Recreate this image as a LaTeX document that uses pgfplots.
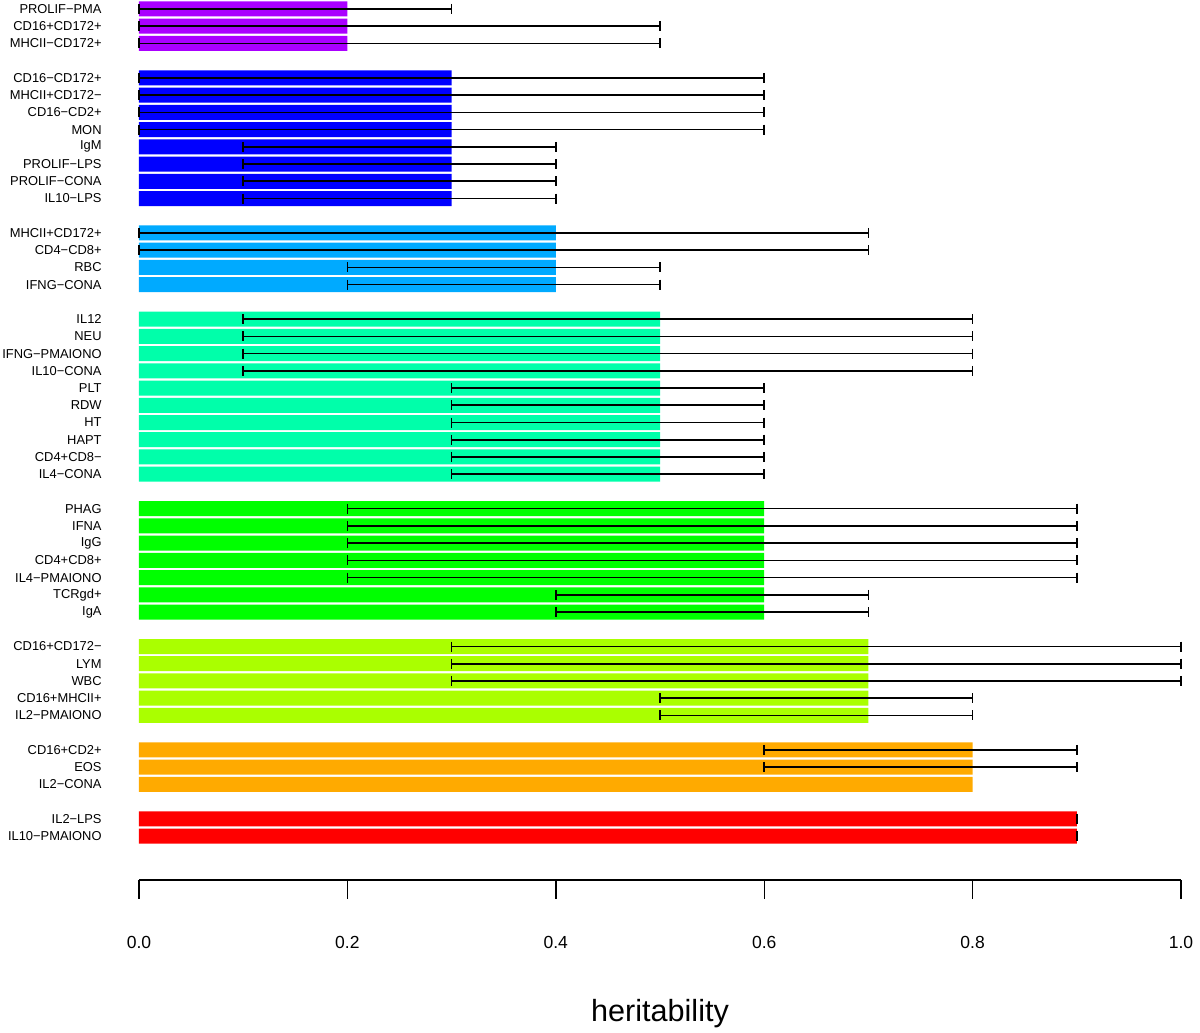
\documentclass[border=0pt]{standalone}
\usepackage{fontspec}
\setmainfont{Liberation Sans}
\usepackage{pgfplots}
\pgfplotsset{compat=1.18}
\definecolor{cRed}{HTML}{FF0000}
\definecolor{cOrange}{HTML}{FFAA00}
\definecolor{cYG}{HTML}{AAFF00}
\definecolor{cGreen}{HTML}{00FF00}
\definecolor{cAqua}{HTML}{00FFAA}
\definecolor{cLBlue}{HTML}{00AAFF}
\definecolor{cBlue}{HTML}{0000FF}
\definecolor{cPurple}{HTML}{AA00FF}
\begin{document}
\begin{tikzpicture}
\useasboundingbox (-69.5pt,-76.5pt) rectangle (530.5pt,440pt);
\begin{axis}[
  at={(0,0)}, anchor=south west,
  scale only axis, width=521pt, height=440pt,
  xmin=0, xmax=1, ymin=-2.55, ymax=48.52,
  enlargelimits=false, clip=false,
  axis x line*=bottom, axis y line*=left,
  y axis line style={draw=none},
  x axis line style={line width=0.7pt, black},
  xtick={0,0.2,0.4,0.6,0.8,1},
  xticklabels={0.0,0.2,0.4,0.6,0.8,1.0},
  xtick style={black, line width=0.7pt},
  ytick style={draw=none},
  tick align=outside,
  x tick label style={font=\fontsize{8.75}{10}\selectfont, yshift=-15pt},
  major tick length=9.5pt,
  ytick={0,1,3,4,5,7,8,9,10,11,13,14,15,16,17,18,19,21,22,23,24,25,26,27,28,29,30,32,33,34,35,37,38,39,40,41,42,43,44,46,47,48},
  yticklabels={IL10−PMAIONO,IL2−LPS,IL2−CONA,EOS,CD16+CD2+,IL2−PMAIONO,CD16+MHCII+,WBC,LYM,CD16+CD172−,IgA,TCRgd+,IL4−PMAIONO,CD4+CD8+,IgG,IFNA,PHAG,IL4−CONA,CD4+CD8−,HAPT,HT,RDW,PLT,IL10−CONA,IFNG−PMAIONO,NEU,IL12,IFNG−CONA,RBC,CD4−CD8+,MHCII+CD172+,IL10−LPS,PROLIF−CONA,PROLIF−LPS,IgM,MON,CD16−CD2+,MHCII+CD172−,CD16−CD172+,MHCII−CD172+,CD16+CD172+,PROLIF−PMA},
  y tick label style={font=\fontsize{6.45}{7.5}\selectfont, anchor=east, inner sep=0pt, xshift=-9pt},
  xlabel={heritability},
  xlabel style={at={(axis description cs:0.5,0)}, anchor=base, yshift=-70.5pt, font=\fontsize{15.3}{18}\selectfont},
]
\addplot[xbar, bar width=7.5pt, bar shift=0pt, fill=cPurple, draw=none] coordinates {(0.2,48) (0.2,47) (0.2,46)};
\addplot[xbar, bar width=7.5pt, bar shift=0pt, fill=cBlue, draw=none] coordinates {(0.3,44) (0.3,43) (0.3,42) (0.3,41) (0.3,40) (0.3,39) (0.3,38) (0.3,37)};
\addplot[xbar, bar width=7.5pt, bar shift=0pt, fill=cLBlue, draw=none] coordinates {(0.4,35) (0.4,34) (0.4,33) (0.4,32)};
\addplot[xbar, bar width=7.5pt, bar shift=0pt, fill=cAqua, draw=none] coordinates {(0.5,30) (0.5,29) (0.5,28) (0.5,27) (0.5,26) (0.5,25) (0.5,24) (0.5,23) (0.5,22) (0.5,21)};
\addplot[xbar, bar width=7.5pt, bar shift=0pt, fill=cGreen, draw=none] coordinates {(0.6,19) (0.6,18) (0.6,17) (0.6,16) (0.6,15) (0.6,14) (0.6,13)};
\addplot[xbar, bar width=7.5pt, bar shift=0pt, fill=cYG, draw=none] coordinates {(0.7,11) (0.7,10) (0.7,9) (0.7,8) (0.7,7)};
\addplot[xbar, bar width=7.5pt, bar shift=0pt, fill=cOrange, draw=none] coordinates {(0.8,5) (0.8,4) (0.8,3)};
\addplot[xbar, bar width=7.5pt, bar shift=0pt, fill=cRed, draw=none] coordinates {(0.9,1) (0.9,0)};
% error bars (lower, upper)
\addplot[black, line width=0.8pt, mark=|, mark size=2.5pt, empty line=jump] table {
x y
0 48
0.3 48

0 47
0.5 47

0 46
0.5 46

0 44
0.6 44

0 43
0.6 43

0 42
0.6 42

0 41
0.6 41

0.1 40
0.4 40

0.1 39
0.4 39

0.1 38
0.4 38

0.1 37
0.4 37

0 35
0.7 35

0 34
0.7 34

0.2 33
0.5 33

0.2 32
0.5 32

0.1 30
0.8 30

0.1 29
0.8 29

0.1 28
0.8 28

0.1 27
0.8 27

0.3 26
0.6 26

0.3 25
0.6 25

0.3 24
0.6 24

0.3 23
0.6 23

0.3 22
0.6 22

0.3 21
0.6 21

0.2 19
0.9 19

0.2 18
0.9 18

0.2 17
0.9 17

0.2 16
0.9 16

0.2 15
0.9 15

0.4 14
0.7 14

0.4 13
0.7 13

0.3 11
1.0 11

0.3 10
1.0 10

0.3 9
1.0 9

0.5 8
0.8 8

0.5 7
0.8 7

0.6 5
0.9 5

0.6 4
0.9 4

0.9 1
0.9 1

0.9 0
0.9 0
};
\end{axis}
\end{tikzpicture}
\end{document}
